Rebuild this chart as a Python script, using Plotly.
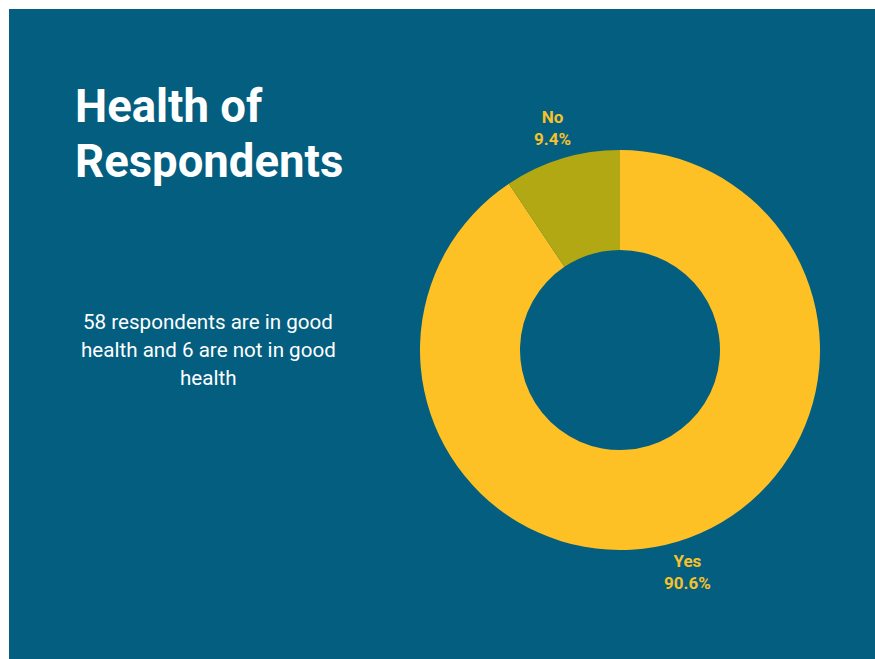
import math
import plotly.graph_objects as go

labels = ["Yes", "No"]
values = [58, 6]
colors = ["#FDC125", "#B1A813"]

title_lines = ["Health of", "Respondents"]
subtitle_lines = ["58 respondents are in good", "health and 6 are not in good", "health"]

W, H = 875, 659
BG = "#035E80"
LABEL_COLOR = "#F6C12B"

# donut geometry (pixels)
CX, CY, R = 620, 350, 200
R_LABEL = 232

fig = go.Figure()
fig.add_trace(go.Pie(
    labels=labels, values=values,
    hole=0.5, sort=False, direction="clockwise", rotation=0,
    marker=dict(colors=colors, line=dict(width=0)),
    textinfo="none",
    domain=dict(x=[(CX - R) / W, (CX + R) / W], y=[1 - (CY + R) / H, 1 - (CY - R) / H]),
    showlegend=False,
    hoverinfo="label+value+percent",
))

# outside labels at each slice's mid-angle
total = sum(values)
cum = 0
for lab, v in zip(labels, values):
    mid = (cum + v / 2) / total * 2 * math.pi
    cum += v
    px = CX + R_LABEL * math.sin(mid)
    py = CY - R_LABEL * math.cos(mid)
    fig.add_annotation(
        text=f"<b>{lab}</b><br><b>{v / total * 100:.1f}%</b>",
        xref="paper", yref="paper", x=px / W, y=1 - py / H,
        xanchor="center", yanchor="middle", showarrow=False, align="center",
        font=dict(family="Roboto", size=17, color=LABEL_COLOR),
    )

fig.add_shape(type="rect", xref="paper", yref="paper",
              x0=9 / W, x1=1, y0=0, y1=1 - 9 / H,
              fillcolor=BG, line=dict(width=0), layer="below")

for i, line in enumerate(title_lines):
    fig.add_annotation(text="<b>" + line + "</b>", xref="paper", yref="paper",
                       x=73 / W, y=1 - (78 + 55 * i) / H, xanchor="left", yanchor="top",
                       showarrow=False,
                       font=dict(family="Roboto", size=45.5, color="white"))

for i, line in enumerate(subtitle_lines):
    fig.add_annotation(text=line, xref="paper", yref="paper",
                       x=208 / W, y=1 - (322 + 28 * i) / H, xanchor="center", yanchor="middle",
                       showarrow=False, align="center",
                       font=dict(family="Roboto", size=20.6, color="white"))

fig.update_layout(
    width=W, height=H,
    margin=dict(l=0, r=0, t=0, b=0),
    paper_bgcolor="white",
    plot_bgcolor="white",
)

fig.write_html("out.html", config={"displayModeBar": False},
               post_script="document.body.style.margin='0';document.body.style.overflow='hidden';")
